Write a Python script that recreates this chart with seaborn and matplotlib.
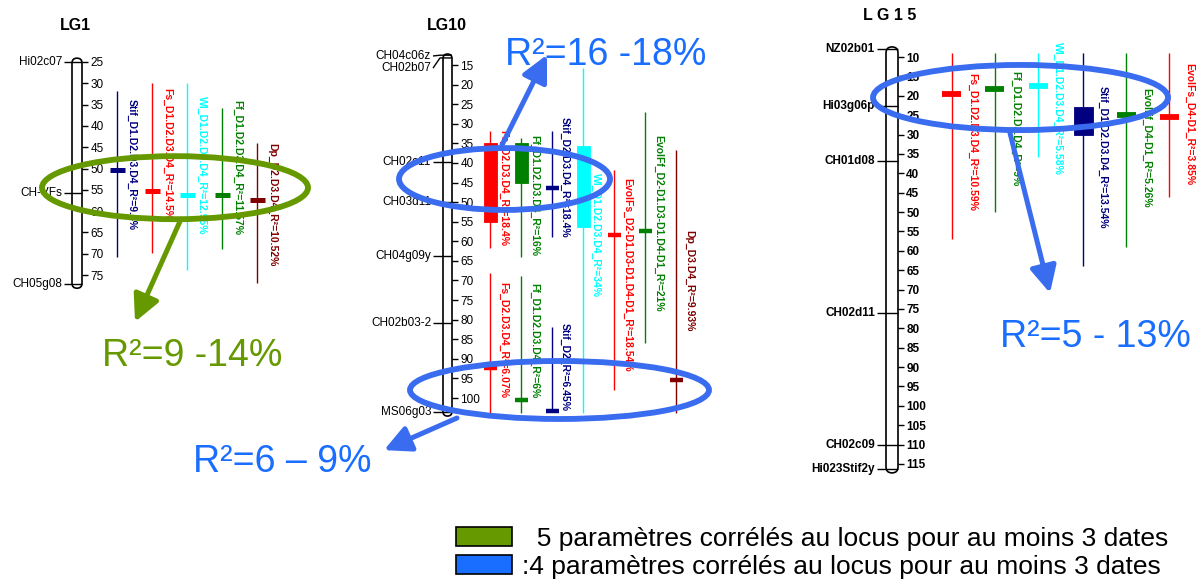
import numpy as np
import matplotlib
matplotlib.use("Agg")
import matplotlib.pyplot as plt
import seaborn as sns
from matplotlib.patches import Ellipse, FancyBboxPatch, Patch

W, H = 1199, 584

# ---------------- data ----------------
NAVY, RED, CYAN, GREEN, DRED = "#000080", "#FF0000", "#00FFFF", "#008000", "#800000"
OLIVE, BLUE, BLUE_T = "#669900", "#3a6cf0", "#1a6eff"

# LG1
lg1_markers = ["Hi02c07", "CH-VFs", "CH05g08"]
lg1_marker_pos = [25.0, 55.7, 77.1]
lg1_extent = [24.1, 78.1]
lg1_labels = ["Stif_D1.D2.D3.D4_R²=9.4%", "Fs_D1.D2.D3.D4_R²=14.5%",
              "Wl_D1.D2.D3.D4_R²=12.95%", "Ff_D1.D2.D3.D4_R²=11.57%",
              "Dp_D2.D3.D4_R²=10.52%"]
lg1_colors = [NAVY, RED, CYAN, GREEN, DRED]
lg1_lo = [31.8, 29.9, 29.9, 35.8, 44.0]
lg1_hi = [70.8, 69.8, 73.8, 69.0, 76.9]
lg1_peak = [50.4, 55.3, 56.2, 56.2, 57.4]
lg1_box_lo = [np.nan] * 5
lg1_box_hi = [np.nan] * 5

# LG10
lg10_markers = ["CH04c06z", "CH02b07", "CH02c11", "CH03d11", "CH04g09y", "CH02b03-2", "MS06g03"]
lg10_marker_pos = [12.5, 13.2, 39.8, 50.0, 63.7, 80.8, 103.6]
lg10_extent = [12.2, 104.6]
lg10_labels = ["Fs_D2.D3.D4_R²=18.4%", "Ff_D1.D2.D3.D4_R²=16%", "Stif_D2.D3.D4_R²=18.4%",
               "Wl_D1.D2.D3.D4_R²=34%", "EvolFs_D2-D1.D3-D1.D4-D1_R²=18.54%",
               "EvolFf_D2-D1.D3-D1.D4-D1_R²=21%", "Dp_D3.D4_R²=9.93%",
               "Fs_D2.D3.D4_R²=6.07%", "Ff_D1.D2.D3.D4_R²=6%", "Stif_D2_R²=6.45%"]
lg10_colors = [RED, GREEN, NAVY, CYAN, RED, GREEN, DRED, RED, GREEN, NAVY]
lg10_lo = [31.8, 33.6, 31.8, 15.8, 41.8, 27.0, 36.7, 68.0, 68.8, 81.8]
lg10_hi = [61.7, 64.0, 58.9, 103.8, 98.0, 86.0, 103.8, 103.8, 103.8, 103.5]
lg10_peak = [np.nan, np.nan, 46.3, np.nan, 58.4, 57.4, 95.4, 92.3, 100.4, 103.2]
lg10_box_lo = [34.9, 35.0, np.nan, 35.7, np.nan, np.nan, np.nan, np.nan, np.nan, np.nan]
lg10_box_hi = [55.0, 45.0, np.nan, 56.3, np.nan, np.nan, np.nan, np.nan, np.nan, np.nan]

# LG15
lg15_markers = ["NZ02b01", "Hi03g06p", "CH01d08", "CH02d11", "CH02c09", "Hi023Stif2y"]
lg15_marker_pos = [7.9, 22.6, 36.8, 76.0, 110.1, 116.2]
lg15_extent = [7.4, 117.3]
lg15_labels = ["Fs_D1.D2.D3.D4_R²=10.59%", "Ff_D1.D2.D3.D4_R²=9%", "Wl_D1.D2.D3.D4_R²=5.58%",
               "Stif_D1.D2.D3.D4_R²=13.54%", "EvolFf_D4-D1_R²=5.26%", "EvolFs_D4-D1_R²=3.85%"]
lg15_colors = [RED, GREEN, CYAN, NAVY, GREEN, RED]
lg15_lo = [9.0, 9.0, 9.0, 9.0, 9.0, 9.0]
lg15_hi = [56.9, 50.0, 35.8, 64.0, 59.0, 46.0]
lg15_peak = [19.5, 18.3, 17.4, np.nan, 25.0, 25.5]
lg15_box_lo = [np.nan, np.nan, np.nan, 22.9, np.nan, np.nan]
lg15_box_hi = [np.nan, np.nan, np.nan, 30.1, np.nan, np.nan]

summary_texts = ["R²=9 -14%", "R²=16 -18%", "R²=6 – 9%", "R²=5 - 13%"]
legend_labels = ["  5 paramètres corrélés au locus pour au moins 3 dates",
                 ":4 paramètres corrélés au locus pour au moins 3 dates"]

# ---------------- style ----------------
sns.set_theme(style="white")
plt.rcParams['font.family'] = ['Liberation Sans', 'DejaVu Sans']
plt.rcParams['text.color'] = 'black'
LABEL_FAMILY = ['Liberation Sans', 'DejaVu Sans']

fig = plt.figure(figsize=(W / 100, H / 100), dpi=100)


def make_axes(x0, x1, ref_cm, ref_px, scale):
    ax = fig.add_axes([x0 / W, 0, (x1 - x0) / W, 1])
    ax.set_facecolor('none')
    ax.set_xlim(x0, x1)
    top = ref_cm - ref_px / scale
    bot = ref_cm + (H - ref_px) / scale
    ax.set_ylim(bot, top)
    for s in ax.spines.values():
        s.set_visible(False)
    ax.xaxis.set_visible(False)
    return ax


def draw_chrom(ax, xl, w, extent, scale, ticks, tick_fs, tick_bold,
               markers, mpos, mlab, mgap, mfs, mbold):
    chrom = FancyBboxPatch((xl, extent[0]), w, extent[1] - extent[0],
                           boxstyle=f"round,pad=0,rounding_size={w / 2}",
                           mutation_aspect=1 / scale, fc='white', ec='black',
                           lw=1.2, zorder=2)
    ax.add_patch(chrom)
    ax.spines['right'].set_position(('data', xl + w))
    ax.yaxis.set_ticks_position('right')
    ax.set_yticks(ticks)
    ax.set_yticklabels([str(t) for t in ticks])
    ax.tick_params(axis='y', right=True, left=False, direction='out', length=4,
                   width=1.0, pad=2, labelsize=tick_fs, colors='black')
    for lab in ax.get_yticklabels():
        lab.set_fontweight('bold' if tick_bold else 'normal')
    for name, p, lp in zip(markers, mpos, mlab):
        ax.plot([xl - mgap, xl - 3, xl + w], [lp, p, p], color='black', lw=1.0,
                zorder=3, solid_capstyle='butt')
        ax.text(xl - mgap - 2, lp, name, ha='right', va='center', fontsize=mfs,
                fontweight='bold' if mbold else 'normal', color='black')


def draw_qtls(ax, xs, lo, hi, peak, blo, bhi, colors, labels, lab_dx, lab_top,
              mark_w, mark_lw, box_w, fs):
    ax.vlines(xs, lo, hi, colors=colors, lw=1.0, zorder=2)
    for x, p, c in zip(xs, peak, colors):
        if not np.isnan(p):
            ax.hlines(p, x - mark_w / 2, x + mark_w / 2, colors=c, lw=mark_lw,
                      zorder=3, capstyle='butt')
    for x, b0, b1, c in zip(xs, blo, bhi, colors):
        if not np.isnan(b0):
            ax.bar(x, b1 - b0, bottom=b0, width=box_w, color=c, edgecolor=c,
                   lw=0.6, zorder=3)
    for x, t, c, lt in zip(xs, labels, colors, lab_top):
        ax.text(x + lab_dx, lt, t, rotation=-90, ha='left', va='top', fontsize=fs,
                fontweight='bold', color=c, family=LABEL_FAMILY, zorder=4)


def ring(ax, cx, cy, w, h, color):
    ax.add_patch(Ellipse((cx, cy), w, h, fill=False, ec=color, lw=4.2,
                         zorder=6, clip_on=False))


def arrow(ax, start, tip, color):
    ax.annotate('', xy=tip, xytext=start, zorder=6,
                arrowprops=dict(arrowstyle="-|>,head_length=0.8,head_width=0.4",
                                mutation_scale=20, lw=3.6, color=color,
                                shrinkA=0, shrinkB=0))


# ---------------- LG1 ----------------
S1 = 4.26
ax1 = make_axes(0, 370, 25, 62, S1)
draw_chrom(ax1, 72, 10, lg1_extent, S1, list(range(25, 80, 5)), 8.5, False,
           lg1_markers, lg1_marker_pos, lg1_marker_pos, 8, 8.5, False)
draw_qtls(ax1, [117, 152, 187, 222, 257], lg1_lo, lg1_hi, lg1_peak, lg1_box_lo, lg1_box_hi,
          lg1_colors, lg1_labels, 10, [33.7, 31.1, 33.0, 33.9, 44.0], 15, 3.6, 13, 7.5)
ax1.text(75, 16.5, "LG1", ha='center', va='center', fontsize=11.5, fontweight='bold')
ring(ax1, 175, 54.5, 266, 14.8, OLIVE)
arrow(ax1, (180, 62.4), (135, 86.0), OLIVE)
ax1.text(102, 96.4, summary_texts[0], ha='left', va='baseline', fontsize=27,
         color=OLIVE, zorder=7, clip_on=False)

# ---------------- LG10 ----------------
S10 = 3.918
ax10 = make_axes(370, 800, 15, 65, S10)
lg10_marker_lab = [12.7, 15.8, 39.8, 50.0, 63.7, 80.8, 103.6]
draw_chrom(ax10, 443, 9, lg10_extent, S10, list(range(15, 105, 5)), 8.5, False,
           lg10_markers, lg10_marker_pos, lg10_marker_lab, 10, 8.5, False)
draw_qtls(ax10, [490, 521, 552, 583, 614, 645, 676, 490, 521, 552],
          lg10_lo, lg10_hi, lg10_peak, lg10_box_lo, lg10_box_hi, lg10_colors, lg10_labels, 8,
          [31.6, 32.9, 28.3, 42.6, 43.8, 32.9, 57.1, 70.4, 70.6, 80.8], 13, 3.2, 13, 7.5)
ax10.text(447, 4.8, "LG10", ha='center', va='center', fontsize=11.5, fontweight='bold')
ring(ax10, 504.5, 44.1, 211, 15.8, BLUE)
ring(ax10, 559.5, 97.95, 299, 14.8, BLUE)
arrow(ax10, (502, 35.4), (547, 12.4), BLUE)
arrow(ax10, (457, 105.1), (384, 113.3), BLUE)
ax10.text(505, 15.0, summary_texts[1], ha='left', va='baseline', fontsize=27,
          color=BLUE_T, zorder=7, clip_on=False)
ax10.text(193, 118.9, summary_texts[2], ha='left', va='baseline', fontsize=27,
          color=BLUE_T, zorder=7, clip_on=False)

# ---------------- LG15 ----------------
S15 = 3.876
ax15 = make_axes(800, 1199, 10, 57, S15)
draw_chrom(ax15, 886, 12, lg15_extent, S15, list(range(10, 120, 5)), 8.5, True,
           lg15_markers, lg15_marker_pos, lg15_marker_pos, 9, 8.5, True)
draw_qtls(ax15, [952, 995, 1038, 1083, 1126, 1169], lg15_lo, lg15_hi, lg15_peak,
          lg15_box_lo, lg15_box_hi, lg15_colors, lg15_labels, 15,
          [14.1, 13.6, 6.1, 17.5, 18.0, 11.5], 19, 4.2, 19, 7.5)
ax15.text(890, -0.8, "L G 1 5", ha='center', va='center', fontsize=11.5, fontweight='bold')
ring(ax15, 1020.5, 20.45, 295, 16.8, BLUE)
arrow(ax15, (1010, 29.6), (1050, 70.9), BLUE)
ax15.text(1000, 84.8, summary_texts[3], ha='left', va='baseline', fontsize=27,
          color=BLUE_T, zorder=7, clip_on=False)

# ---------------- legend ----------------
handles = [Patch(facecolor=OLIVE, edgecolor='black', lw=1.2),
           Patch(facecolor='#1a6eff', edgecolor='black', lw=1.2)]
fs_leg = 19
em = fs_leg * 100 / 72
fig.legend(handles=handles, labels=legend_labels, loc='upper left',
           bbox_to_anchor=(456 / W, 1 - 527 / H), frameon=False, fontsize=fs_leg,
           handlelength=56 / em, handleheight=19 / em, handletextpad=10 / em,
           labelspacing=0.15, borderpad=0, borderaxespad=0)

fig.savefig("out.png", dpi=100)
